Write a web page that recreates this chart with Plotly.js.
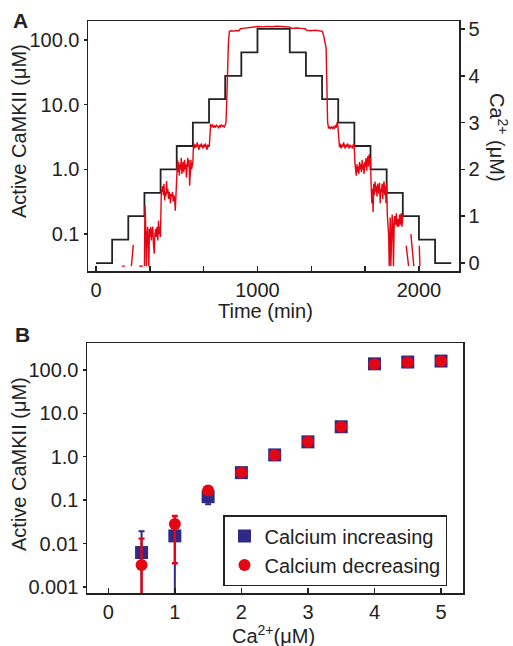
<!DOCTYPE html>
<html>
<head>
<meta charset="utf-8">
<script src="https://cdn.plot.ly/plotly-3.0.1.min.js"></script>
<style>html,body{margin:0;padding:0;background:#fff;}#chart{width:513px;height:646px;}</style>
</head>
<body>
<div id="chart"></div>
<script>
// ---------- Panel A data ----------
// Calcium staircase (uM) vs time (min)
const stepTime = [0,100,200,300,400,500,600,700,800,900,1000,1200,1300,1400,1500,1600,1700,1800,1900,2000,2100,2200];
const stepCa   = [0,0.5,1,1.5,2,2.5,3,3.5,4,4.5,5,4.5,4,3.5,3,2.5,2,1.5,1,0.5,0,0];

// Active CaMKII (uM) vs time (min); null = gap
const camTime = [
  162,178,null,
  219,224,231,null,
  268,290,null,
  300,303,306,309,312,316,320,323,327,331,335,339,343,347,352,356,361,365,370,374,378,383,387,391,395,399,
  402,405,409,413,417,421,425,429,433,437,441,445,449,453,457,461,465,470,474,478,482,487,491,495,499,
  502,505,508,512,516,520,524,528,532,536,540,544,548,552,556,560,564,568,572,576,580,584,588,592,596,600,
  603,607,612,617,622,627,632,637,642,647,652,657,662,667,672,677,682,687,692,697,702,
  705,710,716,722,728,734,740,746,752,758,764,770,776,782,788,794,800,
  805,810,815,820,826,840,855,870,885,895,910,930,950,975,1000,1030,1060,1090,1120,1150,1180,1200,
  1210,1240,1270,1295,1305,1330,1360,1390,1402,1410,1418,1425,1430,
  1434,1440,1446,1452,1458,1464,1470,1476,1482,1488,1494,1498,
  1503,1508,1513,1518,1523,1528,1533,1538,1543,1548,1553,1558,1563,1568,1573,1578,1583,1588,1593,1598,
  1604,1608,1612,1616,1620,1624,1628,1632,1636,1640,1644,1648,1652,1656,1660,1664,1668,1672,1676,1680,1684,1688,1692,1696,1700,
  1704,1708,1712,1716,1720,1724,1728,1732,1736,1740,1744,1748,1752,1756,1760,1764,1768,1772,1776,1780,1784,1788,1792,1796,1800,
  1804,1808,1812,1816,1819,1822,1826,1830,1834,1838,1842,1846,1850,1855,1860,1865,1870,1875,1880,1885,1890,1895,1900,null,
  1921,1936,null,
  1950,1968,null,
  2002,2006
];
const camValue = [
  0.032,0.032,null,
  0.032,0.045,0.068,null,
  0.032,0.032,null,
  0.032,0.27,0.2,0.09,0.032,0.1,0.13,0.07,0.032,0.12,0.09,0.13,0.08,0.11,0.13,0.07,0.05,0.1,0.12,0.09,0.13,0.08,0.16,0.1,0.13,0.09,
  0.35,0.5,0.45,0.55,0.4,0.6,0.33,0.45,0.38,0.66,0.42,0.5,0.35,0.45,0.4,0.3,0.42,0.38,0.45,0.32,0.4,0.35,0.23,0.4,0.5,
  1.2,1.4,0.9,1.3,0.8,1.2,1.0,1.5,0.85,1.1,1.3,0.9,1.4,1.0,1.2,0.75,1.3,1.5,1.1,1.4,0.56,1.2,1.4,1.0,1.2,1.3,
  2.2,2.5,2.1,2.4,2.2,2.6,2.3,2.0,2.4,2.2,2.5,2.3,2.1,2.4,2.2,2.5,2.3,2.0,2.4,2.2,2.3,
  4.6,5.0,4.6,4.8,4.4,4.7,4.5,4.8,4.6,4.4,4.7,4.5,4.9,4.6,4.7,4.5,4.8,
  5.2,12,35,90,135,138,136,139,138,148,150,152,155,158,160,158,161,159,162,160,158,157,
  150,152,150,148,140,138,140,137,135,115,95,75,20,
  5.5,4.3,4.5,4.2,4.6,4.3,4.5,4.2,4.8,4.4,5.4,4.6,
  2.3,2.2,2.5,2.1,2.4,2.2,2.6,2.3,2.1,2.4,2.2,2.5,2.3,2.1,2.4,2.2,2.3,2.1,2.4,2.5,
  1.2,1.0,0.8,1.2,0.9,1.1,0.85,1.3,1.0,1.2,0.9,1.4,1.0,1.2,0.85,1.3,1.1,1.5,0.95,1.3,1.6,1.1,1.7,1.2,1.5,
  0.55,0.3,0.5,0.22,0.6,0.4,0.65,0.45,0.55,0.38,0.6,0.5,0.42,0.62,0.3,0.5,0.45,0.6,0.35,0.55,0.65,0.4,0.55,0.3,0.6,
  0.2,0.14,0.1,0.032,0.12,0.18,0.032,0.14,0.2,0.15,0.032,0.12,0.19,0.14,0.21,0.13,0.17,0.13,0.2,0.14,0.21,0.13,0.2,null,
  0.066,0.032,null,
  0.1,0.032,null,
  0.066,0.032
];
const timeTickVals = [0,1000,2000];
const timeMinorVals = [333.33,666.67,1333.33,1666.67];
const camTickValsA = [0.1,1,10,100];
const camTickTextA = ['0.1','1.0','10.0','100.0'];
const caTickVals = [0,1,2,3,4,5];

// ---------- Panel B data ----------
const caLevels = [0.5,1,1.5,2,2.5,3,3.5,4,4.5,5];
const incValue = [0.0062,0.015,0.12,0.43,1.1,2.2,4.9,138,152,160];
const incPlus  = [0.013,0.015,0.03,0.05,0,0,0,0,0,0];
const incMinus = [0.01,0.02,0.04,0.1,0,0,0,0,0,0];
const decValue = [0.0032,0.028,0.166,0.43,1.1,2.2,4.9,135,150,160];
const decPlus  = [0.0098,0.015,0.02,0,0,0,0,0,0,0];
const decMinus = [0.005,0.0245,0.02,0,0,0,0,0,0,0];
const camTickValsB = [0.001,0.01,0.1,1,10,100];
const camTickTextB = ['0.001','0.01','0.1','1.0','10.0','100.0'];
const caTickValsB = [0,1,2,3,4,5];

// ---------- figure ----------
const W = 513, H = 646;
const px = v => v / W;
const py = v => 1 - v / H;
const INK = '#222';
const RED = '#e30613';
const NAVY = '#2e2a86';
const FONT = 'Liberation Sans, Arial, Helvetica, sans-serif';

const traces = [
  {x: stepTime, y: stepCa, xaxis: 'x', yaxis: 'y', mode: 'lines',
   line: {color: INK, width: 1.8, shape: 'hv'}, showlegend: false, hoverinfo: 'skip'},
  {x: camTime, y: camValue, xaxis: 'x', yaxis: 'y2', mode: 'lines', connectgaps: false,
   line: {color: RED, width: 1.4}, showlegend: false, hoverinfo: 'skip'},
  {x: caLevels, y: incValue, xaxis: 'x2', yaxis: 'y3', mode: 'markers', name: 'Calcium increasing',
   marker: {symbol: 'square', size: 13, color: NAVY},
   error_y: {type: 'data', symmetric: false, array: incPlus, arrayminus: incMinus,
             color: NAVY, thickness: 2, width: 3}},
  {x: caLevels, y: decValue, xaxis: 'x2', yaxis: 'y3', mode: 'markers', name: 'Calcium decreasing',
   marker: {symbol: 'circle', size: 12, color: RED},
   error_y: {type: 'data', symmetric: false, array: decPlus, arrayminus: decMinus,
             color: RED, thickness: 2.4, width: 3}}
];

const axisBase = {
  showline: true, linecolor: INK, linewidth: 1.5, showgrid: false, zeroline: false,
  tickcolor: INK, tickwidth: 1.5, tickfont: {family: FONT, size: 20, color: INK}, tickmode: 'array'
};

const layout = {
  width: W, height: H,
  margin: {l: 0, r: 0, t: 0, b: 0},
  paper_bgcolor: '#fff', plot_bgcolor: '#fff',
  font: {family: FONT, size: 20, color: INK},
  showlegend: true,
  legend: {x: px(223), y: py(515), xanchor: 'left', yanchor: 'top',
           bgcolor: '#fff', bordercolor: INK, borderwidth: 1.5,
           font: {family: FONT, size: 20, color: INK}},
  xaxis: Object.assign({}, axisBase, {domain: [px(88), px(459)], range: [-49.5, 2248], anchor: 'y',
           mirror: true, ticks: 'inside', ticklen: 5, tickvals: timeTickVals,
           minor: {tickmode: 'array', tickvals: timeMinorVals, ticks: 'inside', ticklen: 5, tickwidth: 1.5, tickcolor: INK, showgrid: false}}),
  yaxis: Object.assign({}, axisBase, {domain: [py(271), py(21)], range: [-0.17, 5.17], anchor: 'x',
           side: 'right', ticks: 'outside', ticklen: 4, tickvals: caTickVals, mirror: true}),
  yaxis2: Object.assign({}, axisBase, {overlaying: 'y', side: 'left', type: 'log', range: [-1.57, 2.29],
           anchor: 'x', ticks: 'outside', ticklen: 3, tickvals: camTickValsA, ticktext: camTickTextA}),
  xaxis2: Object.assign({}, axisBase, {domain: [px(87), px(463)], range: [-0.32, 5.33], anchor: 'y3',
           mirror: true, ticks: 'inside', ticklen: 5, tickvals: caTickValsB}),
  yaxis3: Object.assign({}, axisBase, {domain: [py(593), py(343)], type: 'log', range: [-3.14, 2.62],
           anchor: 'x2', mirror: true, ticks: 'outside', ticklen: 3, tickvals: camTickValsB, ticktext: camTickTextB}),
  annotations: [
    {text: '<b>A</b>', xref: 'paper', yref: 'paper', x: px(20), y: py(20), xanchor: 'center', yanchor: 'middle',
     showarrow: false, font: {family: FONT, size: 21, color: INK}},
    {text: '<b>B</b>', xref: 'paper', yref: 'paper', x: px(22), y: py(334), xanchor: 'center', yanchor: 'middle',
     showarrow: false, font: {family: FONT, size: 21, color: INK}},
    {text: 'Active CaMKII (μM)', xref: 'paper', yref: 'paper', x: px(19), y: py(131), xanchor: 'center', yanchor: 'middle',
     textangle: -90, showarrow: false, font: {size: 20, color: INK}},
    {text: 'Active CaMKII (μM)', xref: 'paper', yref: 'paper', x: px(19), y: py(464), xanchor: 'center', yanchor: 'middle',
     textangle: -90, showarrow: false, font: {size: 20, color: INK}},
    {text: 'Ca<sup>2+</sup> (μM)', xref: 'paper', yref: 'paper', x: px(499), y: py(137), xanchor: 'center', yanchor: 'middle',
     textangle: 90, showarrow: false, font: {size: 20, color: INK}},
    {text: 'Time (min)', xref: 'paper', yref: 'paper', x: px(265), y: py(311), xanchor: 'center', yanchor: 'middle',
     showarrow: false, font: {size: 20, color: INK}},
    {text: 'Ca<sup>2+</sup>(μM)', xref: 'paper', yref: 'paper', x: px(273), y: py(634), xanchor: 'center', yanchor: 'middle',
     showarrow: false, font: {size: 20, color: INK}}
  ]
};

Plotly.newPlot('chart', traces, layout, {staticPlot: true, displayModeBar: false});
</script>
</body>
</html>
